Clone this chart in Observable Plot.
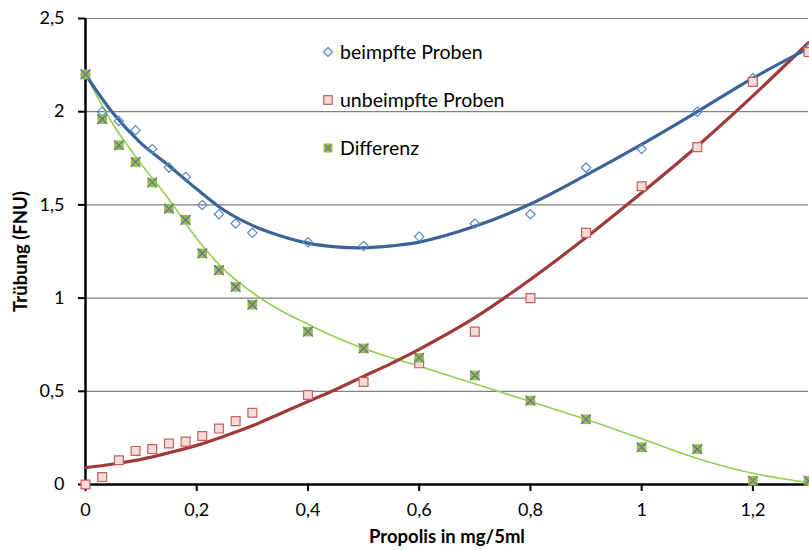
<!DOCTYPE html>
<html>
<head>
<meta charset="utf-8">
<script src="https://cdn.jsdelivr.net/npm/d3@7"></script>
<script src="https://cdn.jsdelivr.net/npm/@observablehq/plot@0.6"></script>
<style>
  body { margin: 0; background: #fff; }
  #chart { position: relative; width: 809px; height: 550px; font-family: Lato, "Open Sans", sans-serif; }
  #chart svg { display: block; }
  #chart svg [aria-label="x-axis label"] text,
  #chart svg [aria-label="y-axis label"] text { font-weight: bold; font-size: 18.5px; }
  .legend { position: absolute; left: 320px; top: 40px; font-size: 19.5px; color: #000; }
  .legend .item { position: absolute; left: 0; white-space: nowrap; display: flex; align-items: center; }
  .legend svg { width: 16px; height: 16px; margin-right: 4px; }
</style>
</head>
<body>
<div id="chart"></div>
<script>
// Measured points
const propolis = [0, 0.03, 0.06, 0.09, 0.12, 0.15, 0.18, 0.21, 0.24, 0.27, 0.3, 0.4, 0.5, 0.6, 0.7, 0.8, 0.9, 1.0, 1.1, 1.2, 1.3];
const beimpft   = [2.2, 2.0, 1.95, 1.9, 1.8, 1.7, 1.65, 1.5, 1.45, 1.4, 1.35, 1.3, 1.28, 1.33, 1.4, 1.45, 1.7, 1.8, 2.0, 2.18, 2.34];
const unbeimpft = [0.0, 0.04, 0.13, 0.18, 0.19, 0.22, 0.23, 0.26, 0.30, 0.34, 0.385, 0.48, 0.55, 0.65, 0.82, 1.0, 1.35, 1.6, 1.81, 2.16, 2.32];
const differenz = [2.2, 1.96, 1.82, 1.73, 1.62, 1.48, 1.42, 1.24, 1.15, 1.06, 0.965, 0.82, 0.73, 0.68, 0.585, 0.45, 0.35, 0.20, 0.19, 0.02, 0.02];

// Trend lines
const trendX         = [0, 0.05, 0.1, 0.15, 0.2, 0.25, 0.3, 0.35, 0.4, 0.45, 0.5, 0.55, 0.6, 0.7, 0.8, 0.9, 1.0, 1.1, 1.2, 1.3];
const trendBeimpft   = [2.2, 1.99, 1.83, 1.71, 1.585, 1.47, 1.39, 1.335, 1.295, 1.275, 1.27, 1.28, 1.30, 1.385, 1.505, 1.66, 1.825, 2.0, 2.18, 2.34];
const trendUnbeimpft = [0.09, 0.11, 0.135, 0.17, 0.21, 0.26, 0.315, 0.38, 0.445, 0.51, 0.58, 0.65, 0.725, 0.895, 1.10, 1.325, 1.565, 1.815, 2.085, 2.37];
const trendDifferenz = [2.2, 1.93, 1.72, 1.53, 1.32, 1.15, 1.03, 0.935, 0.86, 0.79, 0.73, 0.68, 0.635, 0.54, 0.445, 0.35, 0.245, 0.14, 0.06, 0.01];

const xTicks = [0, 0.2, 0.4, 0.6, 0.8, 1, 1.2];
const yTicks = [0, 0.5, 1, 1.5, 2, 2.5];
const seriesNames = ["beimpfte Proben", "unbeimpfte Proben", "Differenz"];

const fmt = d => String(d).replace(".", ",");

const pts = propolis.map((x, i) => ({x, b: beimpft[i], u: unbeimpft[i], d: differenz[i]}));
const trend = trendX.map((x, i) => ({x, b: trendBeimpft[i], u: trendUnbeimpft[i], d: trendDifferenz[i]}));

const plot = Plot.plot({
  width: 809,
  height: 550,
  marginLeft: 85,
  marginRight: 1,
  marginTop: 18,
  marginBottom: 66,
  style: {fontFamily: "Lato, 'Open Sans', sans-serif", fontSize: "18px", color: "#000", background: "#fff", overflow: "visible"},
  x: {domain: [0, 1.3]},
  y: {domain: [0, 2.5]},
  marks: [
    Plot.gridY(yTicks, {stroke: "#808080", strokeOpacity: 1, strokeWidth: 1.2}),
    Plot.axisX(xTicks, {tickSize: 7, tickPadding: 12, tickFormat: fmt, stroke: "#000", strokeWidth: 2,
      label: "Propolis in mg/5ml", labelAnchor: "center", labelArrow: "none", labelOffset: 58}),
    Plot.axisY(yTicks, {tickSize: 7, tickPadding: 14, tickFormat: fmt, stroke: "#000", strokeWidth: 2,
      label: "Trübung (FNU)", labelAnchor: "center", labelArrow: "none", labelOffset: 72}),
    Plot.ruleY([0], {stroke: "#000", strokeWidth: 2.5}),
    Plot.ruleX([0], {stroke: "#000", strokeWidth: 2.5}),
    Plot.line(trend, {x: "x", y: "d", curve: "catmull-rom", stroke: "#92D050", strokeWidth: 1.6}),
    Plot.line(trend, {x: "x", y: "u", curve: "catmull-rom", stroke: "#A03A3A", strokeWidth: 3.2}),
    Plot.line(trend, {x: "x", y: "b", curve: "catmull-rom", stroke: "#3A6498", strokeWidth: 3.2}),
    Plot.dot(pts, {x: "x", y: "b", symbol: "diamond2", r: 4.2, stroke: "#5A8AC6", strokeWidth: 1.2, fill: "none"}),
    Plot.dot(pts, {x: "x", y: "u", symbol: "square", r: 5, stroke: "#C9605C", strokeWidth: 1.2, fill: "#F2DCDB"}),
    Plot.dot(pts, {x: "x", y: "d", symbol: "square", r: 5.4, stroke: "none", fill: "#8CC448"}),
    Plot.dot(pts, {x: "x", y: "d", symbol: "times", r: 4.5, stroke: "#7B68A0", strokeWidth: 1.3})
  ]
});

const chart = document.getElementById("chart");
chart.appendChild(plot);

// Legend (inside the plot area, as in the original)
const legend = document.createElement("div");
legend.className = "legend";
const icons = [
  `<svg viewBox="-8 -8 16 16"><path d="M0,-4.5L4.5,0L0,4.5L-4.5,0Z" fill="none" stroke="#5A8AC6" stroke-width="1.2"/></svg>`,
  `<svg viewBox="-8 -8 16 16"><rect x="-4.3" y="-4.3" width="8.6" height="8.6" fill="#F2DCDB" stroke="#C9605C" stroke-width="1.2"/></svg>`,
  `<svg viewBox="-8 -8 16 16"><rect x="-4.5" y="-4.5" width="9" height="9" fill="#8CC448"/><path d="M-3,-3L3,3M3,-3L-3,3" stroke="#7B68A0" stroke-width="1.3"/></svg>`
];
seriesNames.forEach((name, i) => {
  const item = document.createElement("div");
  item.className = "item";
  item.style.top = (i * 48) + "px";
  item.innerHTML = icons[i] + `<span>${name}</span>`;
  legend.appendChild(item);
});
chart.appendChild(legend);
</script>
</body>
</html>
